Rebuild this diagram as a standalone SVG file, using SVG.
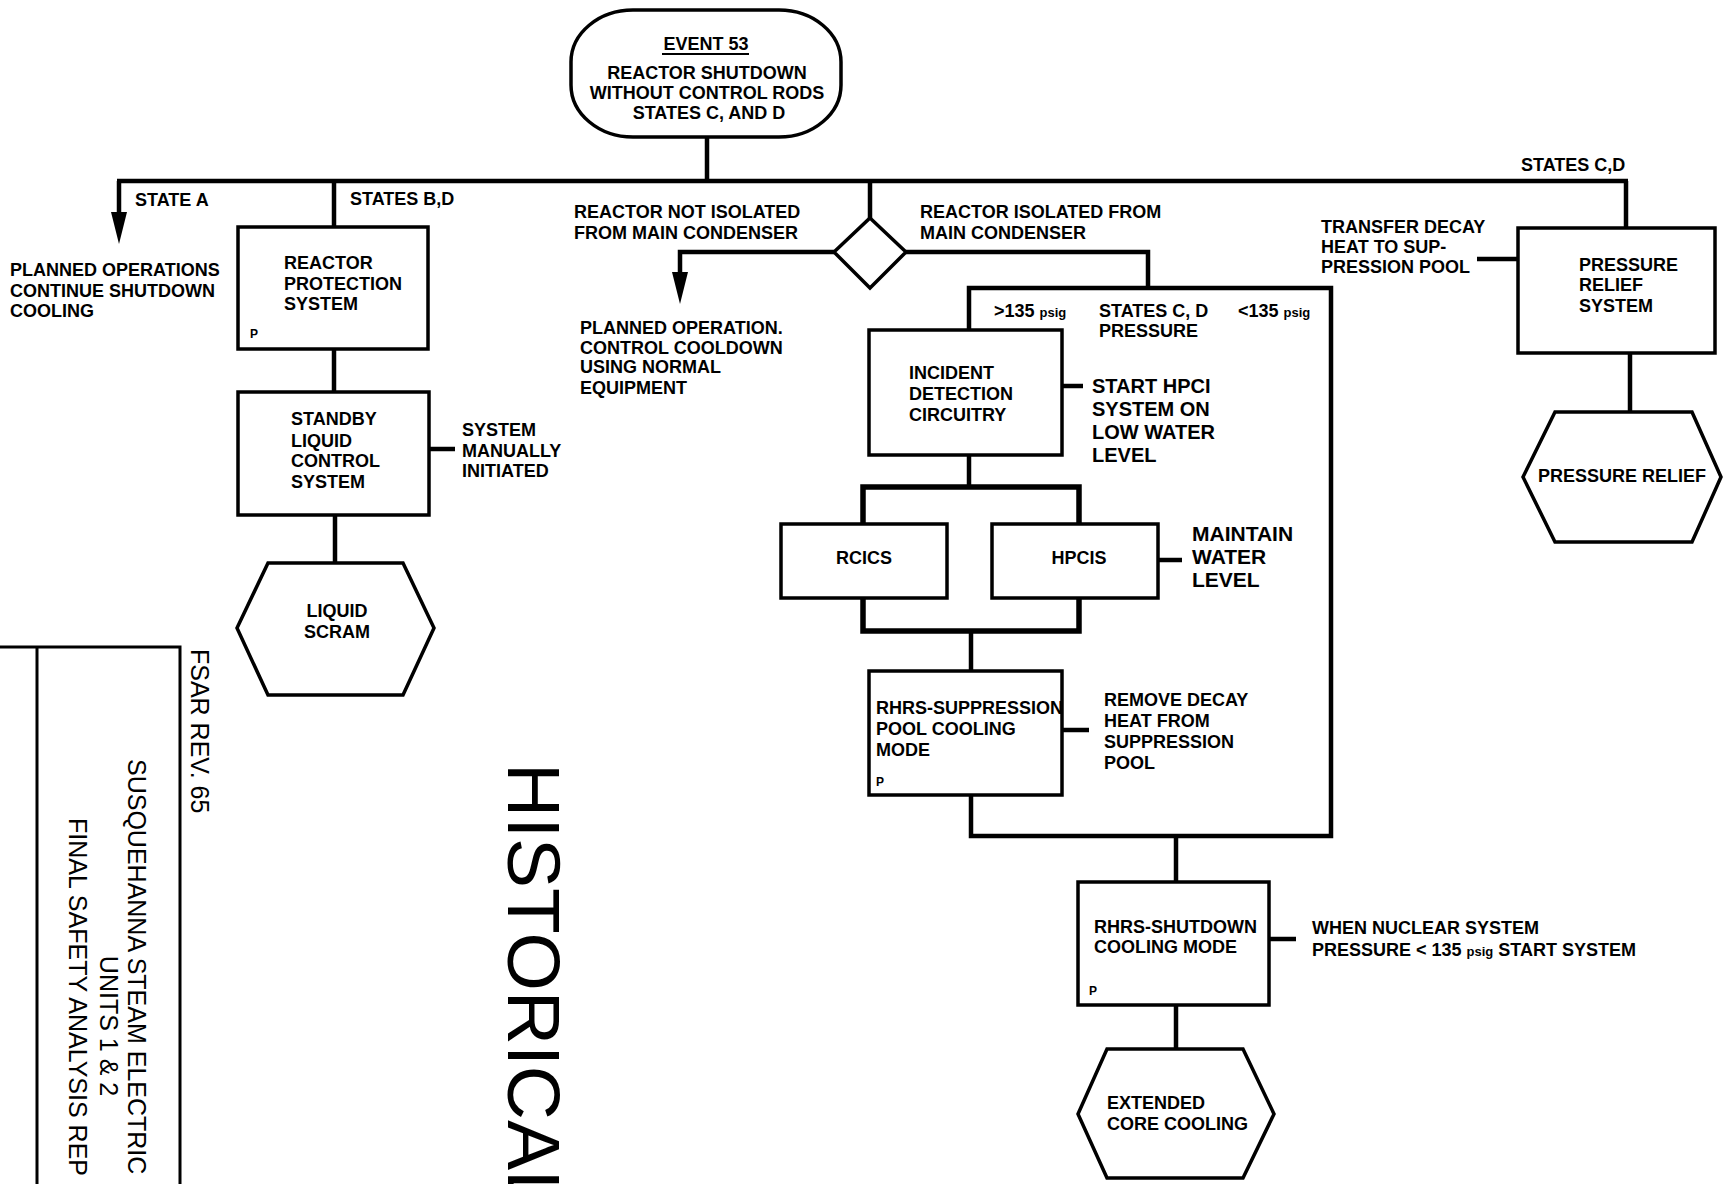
<svg xmlns="http://www.w3.org/2000/svg" width="1733" height="1184" viewBox="0 0 1733 1184">
<defs>
<marker id="arrow" markerUnits="userSpaceOnUse" markerWidth="32" markerHeight="16" refX="0" refY="8" orient="auto">
<path d="M0,0 L32,8 L0,16 z" fill="#000"/>
</marker>
<style>
.box{fill:#fff;stroke:#000;stroke-width:3.5}
.ln{fill:none;stroke:#000;stroke-width:4.5;stroke-linejoin:miter}
.br{fill:none;stroke:#000;stroke-width:5.5}
.tb{fill:none;stroke:#000;stroke-width:3}
.t{font-family:"Liberation Sans",Arial,sans-serif;font-weight:bold;font-size:18px;fill:#000}
.big{font-size:20px}
.big2{font-size:21px}
.sm{font-size:13px}
.c{text-anchor:middle}
.doc{font-family:"Liberation Sans",Arial,sans-serif;font-size:25px;fill:#000}
.hist{font-family:"Liberation Sans",Arial,sans-serif;font-size:75px;fill:#000}
</style>
</defs>
<rect width="1733" height="1184" fill="#fff"/>

<g id="connectors">
<path class="ln" d="M707,137 V181"/>
<path class="ln" d="M117,181 H1628"/>
<path class="ln" d="M119,181 V212" marker-end="url(#arrow)"/>
<path class="ln" d="M334,181 V227"/>
<path class="ln" d="M334,349 V392"/>
<path class="ln" d="M335,515 V563"/>
<path class="ln" d="M429,449 H455"/>
<path class="ln" d="M870,181 V218"/>
<path class="ln" d="M834,252 H680 V272" marker-end="url(#arrow)"/>
<path class="ln" d="M906,252 H1148 V288"/>
<path class="ln" d="M969,330 V288 H1331 V836 H971 V795"/>
<path class="ln" d="M1062,386 H1083"/>
<path class="ln" d="M969,455 V487"/>
<path class="br" d="M863,524 V487 H1079 V524"/>
<path class="br" d="M863,598 V631 H1079 V598"/>
<path class="ln" d="M971,631 V671"/>
<path class="ln" d="M1158,560 H1182"/>
<path class="ln" d="M1062,730 H1089"/>
<path class="ln" d="M1176,836 V882"/>
<path class="ln" d="M1269,939 H1296"/>
<path class="ln" d="M1176,1005 V1049"/>
<path class="ln" d="M1626,181 V228"/>
<path class="ln" d="M1477,259 H1518"/>
<path class="ln" d="M1630,353 V412"/>
</g>

<g id="event53">
<rect class="box" x="571" y="10" width="270" height="127" rx="62" ry="52"/>
<text class="t c" x="706" y="50">EVENT 53</text>
<line x1="662" y1="54" x2="749" y2="54" stroke="#000" stroke-width="2"/>
<text class="t c" x="707" y="79">REACTOR SHUTDOWN</text>
<text class="t c" x="707" y="99">WITHOUT CONTROL RODS</text>
<text class="t c" x="709" y="119">STATES C, AND D</text>
</g>

<g id="label-state-a">
<text class="t" x="135" y="206">STATE A</text>
</g>
<g id="label-planned-ops">
<text class="t" x="10" y="276">PLANNED OPERATIONS</text>
<text class="t" x="10" y="297">CONTINUE SHUTDOWN</text>
<text class="t" x="10" y="317">COOLING</text>
</g>
<g id="label-states-bd">
<text class="t" x="350" y="205">STATES B,D</text>
</g>

<g id="rps">
<rect class="box" x="238" y="227" width="190" height="122"/>
<text class="t" x="284" y="269">REACTOR</text>
<text class="t" x="284" y="290">PROTECTION</text>
<text class="t" x="284" y="310">SYSTEM</text>
<text class="t" x="250" y="338" style="font-size:12px">P</text>
</g>

<g id="slcs">
<rect class="box" x="238" y="392" width="191" height="123"/>
<text class="t" x="291" y="425">STANDBY</text>
<text class="t" x="291" y="447">LIQUID</text>
<text class="t" x="291" y="467">CONTROL</text>
<text class="t" x="291" y="488">SYSTEM</text>
</g>
<g id="label-manual">
<text class="t" x="462" y="436">SYSTEM</text>
<text class="t" x="462" y="457">MANUALLY</text>
<text class="t" x="462" y="477">INITIATED</text>
</g>

<g id="liquid-scram">
<polygon class="box" points="268,563 403,563 434,628 403,695 268,695 237,628"/>
<text class="t c" x="337" y="617">LIQUID</text>
<text class="t c" x="337" y="638">SCRAM</text>
</g>

<g id="decision">
<polygon class="box" points="870,218 906,252 870,288 834,252"/>
</g>
<g id="label-not-isolated">
<text class="t" x="574" y="218">REACTOR NOT ISOLATED</text>
<text class="t" x="574" y="239">FROM MAIN CONDENSER</text>
</g>
<g id="label-planned-op">
<text class="t" x="580" y="334">PLANNED OPERATION.</text>
<text class="t" x="580" y="354">CONTROL COOLDOWN</text>
<text class="t" x="580" y="373">USING NORMAL</text>
<text class="t" x="580" y="394">EQUIPMENT</text>
</g>
<g id="label-isolated">
<text class="t" x="920" y="218">REACTOR ISOLATED FROM</text>
<text class="t" x="920" y="239">MAIN CONDENSER</text>
</g>

<g id="pressure-labels">
<text class="t" x="994" y="317">&gt;135 <tspan class="sm">psig</tspan></text>
<text class="t" x="1099" y="317">STATES C, D</text>
<text class="t" x="1099" y="337">PRESSURE</text>
<text class="t" x="1238" y="317">&lt;135 <tspan class="sm">psig</tspan></text>
</g>

<g id="incident">
<rect class="box" x="869" y="330" width="193" height="125"/>
<text class="t" x="909" y="379">INCIDENT</text>
<text class="t" x="909" y="400">DETECTION</text>
<text class="t" x="909" y="421">CIRCUITRY</text>
</g>
<g id="label-start-hpci">
<text class="t big" x="1092" y="393">START HPCI</text>
<text class="t big" x="1092" y="416">SYSTEM ON</text>
<text class="t big" x="1092" y="439">LOW WATER</text>
<text class="t big" x="1092" y="462">LEVEL</text>
</g>

<g id="rcics">
<rect class="box" x="781" y="524" width="166" height="74"/>
<text class="t c" x="864" y="564">RCICS</text>
</g>
<g id="hpcis">
<rect class="box" x="992" y="524" width="166" height="74"/>
<text class="t c" x="1079" y="564">HPCIS</text>
</g>
<g id="label-maintain">
<text class="t big2" x="1192" y="541">MAINTAIN</text>
<text class="t big2" x="1192" y="564">WATER</text>
<text class="t big2" x="1192" y="587">LEVEL</text>
</g>

<g id="rhrs-spc">
<rect class="box" x="869" y="671" width="193" height="124"/>
<text class="t" x="876" y="714">RHRS-SUPPRESSION</text>
<text class="t" x="876" y="735">POOL COOLING</text>
<text class="t" x="876" y="756">MODE</text>
<text class="t" x="876" y="786" style="font-size:12px">P</text>
</g>
<g id="label-remove-decay">
<text class="t" x="1104" y="706">REMOVE DECAY</text>
<text class="t" x="1104" y="727">HEAT FROM</text>
<text class="t" x="1104" y="748">SUPPRESSION</text>
<text class="t" x="1104" y="769">POOL</text>
</g>

<g id="rhrs-sdc">
<rect class="box" x="1078" y="882" width="191" height="123"/>
<text class="t" x="1094" y="933">RHRS-SHUTDOWN</text>
<text class="t" x="1094" y="953">COOLING MODE</text>
<text class="t" x="1089" y="995" style="font-size:12px">P</text>
</g>
<g id="label-when">
<text class="t" x="1312" y="934">WHEN NUCLEAR SYSTEM</text>
<text class="t" x="1312" y="956">PRESSURE &lt; 135 <tspan class="sm">psig</tspan> START SYSTEM</text>
</g>

<g id="extended-core-cooling">
<polygon class="box" points="1107,1049 1243,1049 1274,1114 1243,1178 1107,1178 1078,1114"/>
<text class="t" x="1107" y="1109">EXTENDED</text>
<text class="t" x="1107" y="1130">CORE COOLING</text>
</g>

<g id="label-states-cd">
<text class="t" x="1521" y="171">STATES C,D</text>
</g>
<g id="label-transfer">
<text class="t" x="1321" y="233">TRANSFER DECAY</text>
<text class="t" x="1321" y="253">HEAT TO SUP-</text>
<text class="t" x="1321" y="273">PRESSION POOL</text>
</g>

<g id="prs">
<rect class="box" x="1518" y="228" width="197" height="125"/>
<text class="t" x="1579" y="271">PRESSURE</text>
<text class="t" x="1579" y="291">RELIEF</text>
<text class="t" x="1579" y="312">SYSTEM</text>
</g>

<g id="pressure-relief">
<polygon class="box" points="1555,412 1692,412 1721,477 1692,542 1555,542 1523,477"/>
<text class="t c" x="1622" y="482">PRESSURE RELIEF</text>
</g>

<g id="title-block">
<path class="tb" d="M0,647 H180 V1184 M37,647 V1184"/>
<text class="doc" transform="translate(191,649) rotate(90)">FSAR REV. 65</text>
<text class="doc" transform="translate(128,759) rotate(90)">SUSQUEHANNA STEAM ELECTRIC</text>
<text class="doc" transform="translate(100,1026) rotate(90)" text-anchor="middle">UNITS 1 &amp; 2</text>
<text class="doc" transform="translate(69,818) rotate(90)">FINAL SAFETY ANALYSIS REP</text>
<text class="hist" transform="translate(508,763) rotate(90)">HISTORICAL</text>
</g>
</svg>
